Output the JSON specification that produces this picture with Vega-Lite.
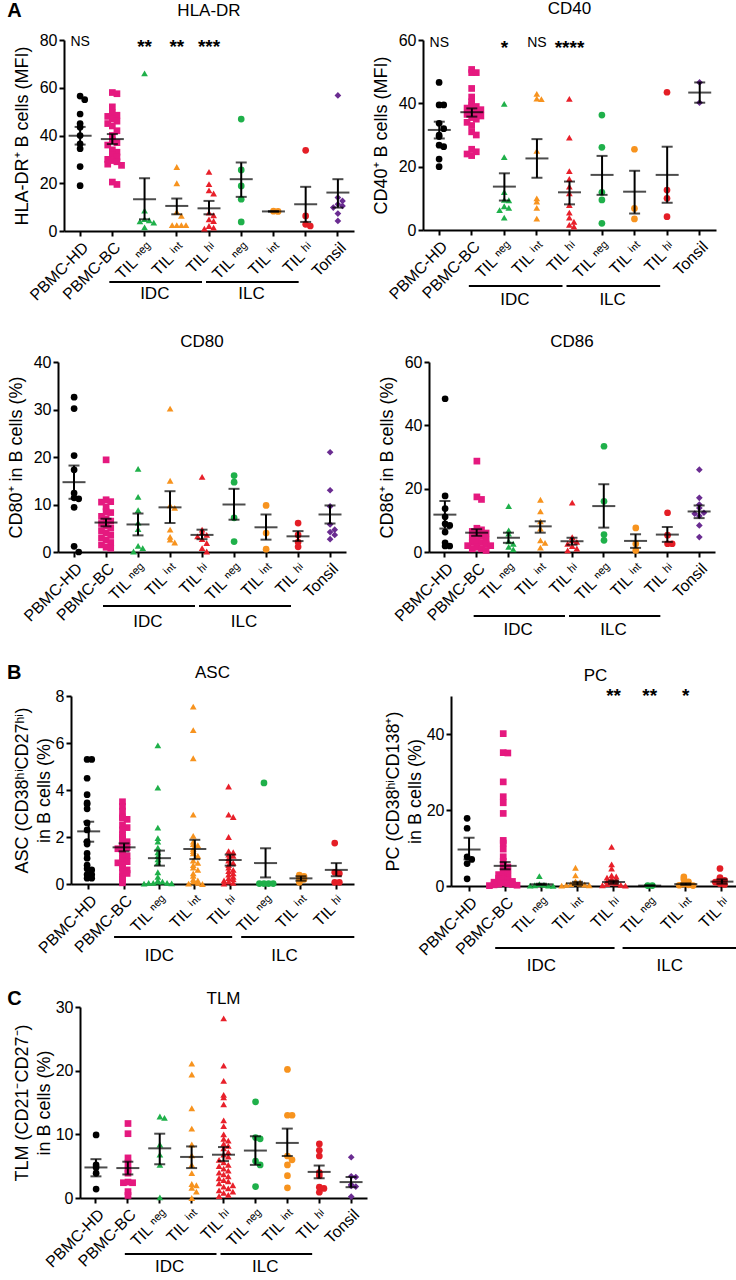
{
"$schema": "https://vega.github.io/schema/vega-lite/v6.json",
"background": "white",
"padding": {"left": 0, "top": 0, "right": 0, "bottom": 0},
"config": {
 "font": "Liberation Sans",
 "view": {"stroke": null},
 "axis": {"domainColor": "black", "domainWidth": 2, "tickColor": "black", "tickWidth": 2, "tickSize": 5, "labelColor": "black", "titleColor": "black", "labelFontSize": 16, "titleFontSize": 18, "titleFontWeight": "normal", "titleLineHeight": 22, "grid": false, "labelFont": "Liberation Sans", "titleFont": "Liberation Sans", "titlePadding": 6},
 "axisX": {"labelAngle": -45, "labelPadding": 3},
 "title": {"fontSize": 17, "fontWeight": "normal", "color": "black", "font": "Liberation Sans"},
 "concat": {"spacing": 20}
},
"datasets": {
 "hla": [
  {"c":"HD","v":56.5},{"c":"HD","v":55},{"c":"HD","v":49},{"c":"HD","v":45},{"c":"HD","v":43.5},{"c":"HD","v":40},{"c":"HD","v":36.5},{"c":"HD","v":34.5},{"c":"HD","v":27},{"c":"HD","v":19},
  {"c":"BC","v":58},{"c":"BC","v":57.5},{"c":"BC","v":52},{"c":"BC","v":49.5},{"c":"BC","v":48.5},{"c":"BC","v":48},{"c":"BC","v":47},{"c":"BC","v":46},{"c":"BC","v":45},{"c":"BC","v":44},{"c":"BC","v":42},{"c":"BC","v":40},{"c":"BC","v":38},{"c":"BC","v":37},{"c":"BC","v":36},{"c":"BC","v":34},{"c":"BC","v":33},{"c":"BC","v":32},{"c":"BC","v":31},{"c":"BC","v":30},{"c":"BC","v":29.5},{"c":"BC","v":29},{"c":"BC","v":28},{"c":"BC","v":27.5},{"c":"BC","v":20.5},{"c":"BC","v":19.5},
  {"c":"IDCneg","v":66},{"c":"IDCneg","v":8.5},{"c":"IDCneg","v":5},{"c":"IDCneg","v":4.5},{"c":"IDCneg","v":4},{"c":"IDCneg","v":3.5},{"c":"IDCneg","v":1.5},
  {"c":"IDCint","v":26.8},{"c":"IDCint","v":20},{"c":"IDCint","v":8},{"c":"IDCint","v":6.3},{"c":"IDCint","v":2.5},{"c":"IDCint","v":2.5},{"c":"IDCint","v":2.5},{"c":"IDCint","v":2.5},
  {"c":"IDChi","v":24.8},{"c":"IDChi","v":19.6},{"c":"IDChi","v":17},{"c":"IDChi","v":15.7},{"c":"IDChi","v":7.7},{"c":"IDChi","v":6.6},{"c":"IDChi","v":4.9},{"c":"IDChi","v":4.2},{"c":"IDChi","v":2.1},{"c":"IDChi","v":1.4},{"c":"IDChi","v":1},
  {"c":"ILCneg","v":46.9},{"c":"ILCneg","v":25.6},{"c":"ILCneg","v":18.9},{"c":"ILCneg","v":13.3},{"c":"ILCneg","v":3.8},
  {"c":"ILCint","v":8.3},{"c":"ILCint","v":8.2},
  {"c":"ILChi","v":33.8},{"c":"ILChi","v":6.3},{"c":"ILChi","v":2.8},{"c":"ILChi","v":2.1},
  {"c":"Tonsil","v":56.8},{"c":"Tonsil","v":14},{"c":"Tonsil","v":12.6},{"c":"Tonsil","v":11.2},{"c":"Tonsil","v":10.5},{"c":"Tonsil","v":9.8},{"c":"Tonsil","v":7.3},{"c":"Tonsil","v":4.2}
 ],
 "hla_s": [
  {"c":"HD","m":39.9,"lo":36.2,"hi":43.6},{"c":"BC","m":38.5,"lo":36.4,"hi":40.6},{"c":"IDCneg","m":13.3,"lo":4.9,"hi":22.1},{"c":"IDCint","m":10.5,"lo":7,"hi":13.6},{"c":"IDChi","m":9.5,"lo":7,"hi":12.6},{"c":"ILCneg","m":21.7,"lo":14.3,"hi":28.7},{"c":"ILCint","m":8.2,"lo":8.2,"hi":8.2},{"c":"ILChi","m":11.2,"lo":3.8,"hi":18.5},{"c":"Tonsil","m":16.1,"lo":9.8,"hi":21.7}
 ],
 "hla_sig": [{"c":"HD","t":"NS"},{"c":"IDCneg","t":"**"},{"c":"IDCint","t":"**"},{"c":"IDChi","t":"***"}],
 "cd40": [
  {"c":"HD","v":46.6},{"c":"HD","v":39.5},{"c":"HD","v":39.5},{"c":"HD","v":33.7},{"c":"HD","v":32},{"c":"HD","v":30},{"c":"HD","v":29.5},{"c":"HD","v":26.8},{"c":"HD","v":26.3},{"c":"HD","v":22.4},{"c":"HD","v":20},
  {"c":"BC","v":50.7},{"c":"BC","v":49.7},{"c":"BC","v":49.7},{"c":"BC","v":44.7},{"c":"BC","v":42},{"c":"BC","v":40.5},{"c":"BC","v":39.5},{"c":"BC","v":39},{"c":"BC","v":38.5},{"c":"BC","v":38},{"c":"BC","v":37.5},{"c":"BC","v":37},{"c":"BC","v":36.5},{"c":"BC","v":36},{"c":"BC","v":35.5},{"c":"BC","v":35},{"c":"BC","v":34},{"c":"BC","v":33},{"c":"BC","v":31},{"c":"BC","v":30},{"c":"BC","v":25.5},{"c":"BC","v":24.7},{"c":"BC","v":24},{"c":"BC","v":23.5},
  {"c":"IDCneg","v":39.8},{"c":"IDCneg","v":23},{"c":"IDCneg","v":12},{"c":"IDCneg","v":9.5},{"c":"IDCneg","v":9.4},{"c":"IDCneg","v":7.5},{"c":"IDCneg","v":7},{"c":"IDCneg","v":6.3},{"c":"IDCneg","v":3.9},
  {"c":"IDCint","v":43},{"c":"IDCint","v":41.5},{"c":"IDCint","v":41.3},{"c":"IDCint","v":25},{"c":"IDCint","v":10},{"c":"IDCint","v":9},{"c":"IDCint","v":7},{"c":"IDCint","v":3.6},
  {"c":"IDChi","v":41.4},{"c":"IDChi","v":29.2},{"c":"IDChi","v":18.6},{"c":"IDChi","v":16.1},{"c":"IDChi","v":13.7},{"c":"IDChi","v":11.6},{"c":"IDChi","v":7.9},{"c":"IDChi","v":5.5},{"c":"IDChi","v":3.9},{"c":"IDChi","v":2.6},{"c":"IDChi","v":1.6},{"c":"IDChi","v":1.1},
  {"c":"ILCneg","v":36.3},{"c":"ILCneg","v":26.1},{"c":"ILCneg","v":11.9},{"c":"ILCneg","v":9.5},{"c":"ILCneg","v":2.1},
  {"c":"ILCint","v":25.5},{"c":"ILCint","v":6.8},{"c":"ILCint","v":3.5},
  {"c":"ILChi","v":43.5},{"c":"ILChi","v":12.6},{"c":"ILChi","v":10},{"c":"ILChi","v":4.2},
  {"c":"Tonsil","v":46.6},{"c":"Tonsil","v":40.2}
 ],
 "cd40_s": [
  {"c":"HD","m":31.6,"lo":28.9,"hi":34.2},{"c":"BC","m":37.2,"lo":35.8,"hi":38.4},{"c":"IDCneg","m":13.7,"lo":9.3,"hi":17.9},{"c":"IDCint","m":22.6,"lo":16.5,"hi":28.7},{"c":"IDChi","m":11.9,"lo":8.1,"hi":15.3},{"c":"ILCneg","m":17.4,"lo":11.1,"hi":23.4},{"c":"ILCint","m":12.1,"lo":5.2,"hi":18.7},{"c":"ILChi","m":17.4,"lo":8.6,"hi":26.3},{"c":"Tonsil","m":43.4,"lo":40.2,"hi":46.6}
 ],
 "cd40_sig": [{"c":"HD","t":"NS"},{"c":"IDCneg","t":"*"},{"c":"IDCint","t":"NS"},{"c":"IDChi","t":"****"}],
 "cd80": [
  {"c":"HD","v":32.6},{"c":"HD","v":30.2},{"c":"HD","v":20.3},{"c":"HD","v":17.3},{"c":"HD","v":12.4},{"c":"HD","v":11.4},{"c":"HD","v":11.2},{"c":"HD","v":9.4},{"c":"HD","v":1.2},{"c":"HD","v":0},
  {"c":"BC","v":19.4},{"c":"BC","v":11},{"c":"BC","v":10.6},{"c":"BC","v":10.5},{"c":"BC","v":9.5},{"c":"BC","v":8.5},{"c":"BC","v":8.3},{"c":"BC","v":7.5},{"c":"BC","v":7},{"c":"BC","v":6.5},{"c":"BC","v":6},{"c":"BC","v":5.5},{"c":"BC","v":5},{"c":"BC","v":4.5},{"c":"BC","v":4},{"c":"BC","v":3.5},{"c":"BC","v":3},{"c":"BC","v":2.5},{"c":"BC","v":2},{"c":"BC","v":1.5},{"c":"BC","v":1},{"c":"BC","v":0.8},
  {"c":"IDCneg","v":17.5},{"c":"IDCneg","v":11.6},{"c":"IDCneg","v":8.8},{"c":"IDCneg","v":6.2},{"c":"IDCneg","v":4.8},{"c":"IDCneg","v":1.3},{"c":"IDCneg","v":0.8},{"c":"IDCneg","v":0.1},
  {"c":"IDCint","v":30.2},{"c":"IDCint","v":15},{"c":"IDCint","v":9.8},{"c":"IDCint","v":9.3},{"c":"IDCint","v":4.7},{"c":"IDCint","v":3.2},{"c":"IDCint","v":2.6},{"c":"IDCint","v":2},
  {"c":"IDChi","v":15.8},{"c":"IDChi","v":4.7},{"c":"IDChi","v":4.1},{"c":"IDChi","v":3.6},{"c":"IDChi","v":3.3},{"c":"IDChi","v":2.7},{"c":"IDChi","v":1.9},{"c":"IDChi","v":0.8},{"c":"IDChi","v":0.1},
  {"c":"ILCneg","v":16.1},{"c":"ILCneg","v":14.7},{"c":"ILCneg","v":7.2},{"c":"ILCneg","v":2.2},
  {"c":"ILCint","v":9.8},{"c":"ILCint","v":4},{"c":"ILCint","v":0.6},
  {"c":"ILChi","v":6.1},{"c":"ILChi","v":3.6},{"c":"ILChi","v":2.1},{"c":"ILChi","v":1.1},
  {"c":"Tonsil","v":21},{"c":"Tonsil","v":13},{"c":"Tonsil","v":9.6},{"c":"Tonsil","v":5.8},{"c":"Tonsil","v":4.7},{"c":"Tonsil","v":4.2},{"c":"Tonsil","v":3.6},{"c":"Tonsil","v":2.7}
 ],
 "cd80_s": [
  {"c":"HD","m":14.7,"lo":11.2,"hi":18.2},{"c":"BC","m":6.2,"lo":5.4,"hi":7},{"c":"IDCneg","m":5.8,"lo":3.5,"hi":8.1},{"c":"IDCint","m":9.4,"lo":6.1,"hi":12.8},{"c":"IDChi","m":3.6,"lo":2.7,"hi":4.7},{"c":"ILCneg","m":10,"lo":6.8,"hi":13.3},{"c":"ILCint","m":5.2,"lo":2.6,"hi":7.9},{"c":"ILChi","m":3.3,"lo":2.3,"hi":4.4},{"c":"Tonsil","m":7.9,"lo":6,"hi":9.8}
 ],
 "cd86": [
  {"c":"HD","v":48.4},{"c":"HD","v":17.7},{"c":"HD","v":13.7},{"c":"HD","v":11.1},{"c":"HD","v":8.9},{"c":"HD","v":8.4},{"c":"HD","v":6.3},{"c":"HD","v":2.9},{"c":"HD","v":1.9},{"c":"HD","v":1.9},
  {"c":"BC","v":28.7},{"c":"BC","v":17.4},{"c":"BC","v":16.6},{"c":"BC","v":7.5},{"c":"BC","v":7},{"c":"BC","v":6.5},{"c":"BC","v":6},{"c":"BC","v":5.5},{"c":"BC","v":5},{"c":"BC","v":4.5},{"c":"BC","v":4},{"c":"BC","v":3.5},{"c":"BC","v":3},{"c":"BC","v":3},{"c":"BC","v":2.5},{"c":"BC","v":2},{"c":"BC","v":2},{"c":"BC","v":1.5},{"c":"BC","v":1},{"c":"BC","v":1},{"c":"BC","v":0.5},
  {"c":"IDCneg","v":14.5},{"c":"IDCneg","v":6.8},{"c":"IDCneg","v":5.8},{"c":"IDCneg","v":3.4},{"c":"IDCneg","v":2.6},{"c":"IDCneg","v":1.6},{"c":"IDCneg","v":0.8},
  {"c":"IDCint","v":16.5},{"c":"IDCint","v":12.8},{"c":"IDCint","v":9.7},{"c":"IDCint","v":7.4},{"c":"IDCint","v":3.7},{"c":"IDCint","v":2.9},{"c":"IDCint","v":1.4},
  {"c":"IDChi","v":15.6},{"c":"IDChi","v":4.7},{"c":"IDChi","v":3.7},{"c":"IDChi","v":3.2},{"c":"IDChi","v":2.6},{"c":"IDChi","v":1.9},{"c":"IDChi","v":1.1},{"c":"IDChi","v":0.5},
  {"c":"ILCneg","v":33.4},{"c":"ILCneg","v":16},{"c":"ILCneg","v":5.5},{"c":"ILCneg","v":3.7},
  {"c":"ILCint","v":7.6},{"c":"ILCint","v":2.6},{"c":"ILCint","v":0.5},
  {"c":"ILChi","v":12.4},{"c":"ILChi","v":5.3},{"c":"ILChi","v":2.6},{"c":"ILChi","v":2.6},
  {"c":"Tonsil","v":26},{"c":"Tonsil","v":17.1},{"c":"Tonsil","v":15},{"c":"Tonsil","v":13.9},{"c":"Tonsil","v":12.4},{"c":"Tonsil","v":12.1},{"c":"Tonsil","v":11.4},{"c":"Tonsil","v":8.4},{"c":"Tonsil","v":4.7}
 ],
 "cd86_s": [
  {"c":"HD","m":11.8,"lo":7.4,"hi":16.1},{"c":"BC","m":6.1,"lo":5.1,"hi":7.2},{"c":"IDCneg","m":4.5,"lo":2.9,"hi":6.1},{"c":"IDCint","m":8.1,"lo":6.1,"hi":9.7},{"c":"IDChi","m":3.4,"lo":2.3,"hi":4.5},{"c":"ILCneg","m":14.5,"lo":7.7,"hi":21.4},{"c":"ILCint","m":3.5,"lo":1.3,"hi":5.6},{"c":"ILChi","m":5.5,"lo":3.2,"hi":7.9},{"c":"Tonsil","m":12.8,"lo":10.7,"hi":14.7}
 ],
 "asc": [
  {"c":"HD","v":5.3},{"c":"HD","v":5.3},{"c":"HD","v":4.5},{"c":"HD","v":3.8},{"c":"HD","v":3.45},{"c":"HD","v":3.4},{"c":"HD","v":3.2},{"c":"HD","v":2.6},{"c":"HD","v":2.3},{"c":"HD","v":1.8},{"c":"HD","v":1.7},{"c":"HD","v":1.3},{"c":"HD","v":1.1},{"c":"HD","v":0.8},{"c":"HD","v":0.65},{"c":"HD","v":0.6},{"c":"HD","v":0.4},{"c":"HD","v":0.4},{"c":"HD","v":0.25},{"c":"HD","v":0.25},
  {"c":"BC","v":3.5},{"c":"BC","v":3.3},{"c":"BC","v":3.1},{"c":"BC","v":2.85},{"c":"BC","v":2.8},{"c":"BC","v":2.75},{"c":"BC","v":2.5},{"c":"BC","v":2.4},{"c":"BC","v":2.3},{"c":"BC","v":2.1},{"c":"BC","v":2},{"c":"BC","v":1.9},{"c":"BC","v":1.8},{"c":"BC","v":1.7},{"c":"BC","v":1.6},{"c":"BC","v":1.55},{"c":"BC","v":1.5},{"c":"BC","v":1.4},{"c":"BC","v":1.3},{"c":"BC","v":1.2},{"c":"BC","v":1.1},{"c":"BC","v":1},{"c":"BC","v":0.95},{"c":"BC","v":0.9},{"c":"BC","v":0.8},{"c":"BC","v":0.7},{"c":"BC","v":0.6},{"c":"BC","v":0.5},{"c":"BC","v":0.45},{"c":"BC","v":0.3},{"c":"BC","v":0.2},{"c":"BC","v":0.05},
  {"c":"IDCneg","v":5.9},{"c":"IDCneg","v":4.1},{"c":"IDCneg","v":2.4},{"c":"IDCneg","v":1.95},{"c":"IDCneg","v":1.8},{"c":"IDCneg","v":1.55},{"c":"IDCneg","v":1.35},{"c":"IDCneg","v":1.2},{"c":"IDCneg","v":1.05},{"c":"IDCneg","v":0.9},{"c":"IDCneg","v":0.5},{"c":"IDCneg","v":0.3},{"c":"IDCneg","v":0.15},{"c":"IDCneg","v":0.1},{"c":"IDCneg","v":0.1},{"c":"IDCneg","v":0.05},{"c":"IDCneg","v":0.05},{"c":"IDCneg","v":0.05},{"c":"IDCneg","v":0.03},{"c":"IDCneg","v":0.02},
  {"c":"IDCint","v":7.55},{"c":"IDCint","v":6.55},{"c":"IDCint","v":5.35},{"c":"IDCint","v":2.95},{"c":"IDCint","v":2.05},{"c":"IDCint","v":1.8},{"c":"IDCint","v":1.7},{"c":"IDCint","v":1.65},{"c":"IDCint","v":1.5},{"c":"IDCint","v":1.4},{"c":"IDCint","v":1.3},{"c":"IDCint","v":1.2},{"c":"IDCint","v":1},{"c":"IDCint","v":0.9},{"c":"IDCint","v":0.8},{"c":"IDCint","v":0.7},{"c":"IDCint","v":0.6},{"c":"IDCint","v":0.45},{"c":"IDCint","v":0.35},{"c":"IDCint","v":0.2},{"c":"IDCint","v":0.15},{"c":"IDCint","v":0.1},{"c":"IDCint","v":0.05},{"c":"IDCint","v":0.02},{"c":"IDCint","v":0},
  {"c":"IDChi","v":4.15},{"c":"IDChi","v":2.95},{"c":"IDChi","v":2.85},{"c":"IDChi","v":2},{"c":"IDChi","v":1.4},{"c":"IDChi","v":1.35},{"c":"IDChi","v":1.25},{"c":"IDChi","v":1.2},{"c":"IDChi","v":1.1},{"c":"IDChi","v":1},{"c":"IDChi","v":0.9},{"c":"IDChi","v":0.8},{"c":"IDChi","v":0.7},{"c":"IDChi","v":0.6},{"c":"IDChi","v":0.55},{"c":"IDChi","v":0.45},{"c":"IDChi","v":0.4},{"c":"IDChi","v":0.3},{"c":"IDChi","v":0.25},{"c":"IDChi","v":0.2},{"c":"IDChi","v":0.15},{"c":"IDChi","v":0.1},{"c":"IDChi","v":0.05},{"c":"IDChi","v":0.02},
  {"c":"ILCneg","v":4.3},{"c":"ILCneg","v":0.02},{"c":"ILCneg","v":0.02},{"c":"ILCneg","v":0.02},{"c":"ILCneg","v":0.02},
  {"c":"ILCint","v":0.38},{"c":"ILCint","v":0.33},{"c":"ILCint","v":0.25},{"c":"ILCint","v":0.2},{"c":"ILCint","v":0.07},
  {"c":"ILChi","v":1.74},{"c":"ILChi","v":0.5},{"c":"ILChi","v":0.45},{"c":"ILChi","v":0.07},{"c":"ILChi","v":0.07}
 ],
 "asc_s": [
  {"c":"HD","m":2.24,"lo":1.8,"hi":2.65},{"c":"BC","m":1.56,"lo":1.39,"hi":1.73},{"c":"IDCneg","m":1.1,"lo":0.78,"hi":1.42},{"c":"IDCint","m":1.49,"lo":1.06,"hi":1.88},{"c":"IDChi","m":1.02,"lo":0.78,"hi":1.25},{"c":"ILCneg","m":0.89,"lo":0.28,"hi":1.52},{"c":"ILCint","m":0.24,"lo":0.14,"hi":0.33},{"c":"ILChi","m":0.6,"lo":0.33,"hi":0.89}
 ],
 "pc": [
  {"c":"HD","v":17.8},{"c":"HD","v":15.2},{"c":"HD","v":7.7},{"c":"HD","v":7},{"c":"HD","v":5.9},{"c":"HD","v":1.9},
  {"c":"BC","v":40.1},{"c":"BC","v":35.1},{"c":"BC","v":35},{"c":"BC","v":27.4},{"c":"BC","v":23.5},{"c":"BC","v":21.9},{"c":"BC","v":19.1},{"c":"BC","v":12},{"c":"BC","v":11.3},{"c":"BC","v":9.7},{"c":"BC","v":7.7},{"c":"BC","v":6.5},{"c":"BC","v":5.5},{"c":"BC","v":5},{"c":"BC","v":4.5},{"c":"BC","v":4},{"c":"BC","v":3.5},{"c":"BC","v":3.2},{"c":"BC","v":3},{"c":"BC","v":2.5},{"c":"BC","v":2.2},{"c":"BC","v":2},{"c":"BC","v":1.8},{"c":"BC","v":1.5},{"c":"BC","v":1.3},{"c":"BC","v":1.2},{"c":"BC","v":1},{"c":"BC","v":0.8},{"c":"BC","v":0.6},{"c":"BC","v":0.5},{"c":"BC","v":0.4},{"c":"BC","v":0.3},{"c":"BC","v":0.2},{"c":"BC","v":0.1},
  {"c":"IDCneg","v":2.6},{"c":"IDCneg","v":0.5},{"c":"IDCneg","v":0.3},{"c":"IDCneg","v":0.2},{"c":"IDCneg","v":0.1},{"c":"IDCneg","v":0.1},{"c":"IDCneg","v":0.05},
  {"c":"IDCint","v":4.8},{"c":"IDCint","v":2.8},{"c":"IDCint","v":1.2},{"c":"IDCint","v":1},{"c":"IDCint","v":0.8},{"c":"IDCint","v":0.6},{"c":"IDCint","v":0.5},{"c":"IDCint","v":0.4},{"c":"IDCint","v":0.3},{"c":"IDCint","v":0.2},{"c":"IDCint","v":0.1},
  {"c":"IDChi","v":10.3},{"c":"IDChi","v":5.7},{"c":"IDChi","v":4.6},{"c":"IDChi","v":2.8},{"c":"IDChi","v":2.5},{"c":"IDChi","v":2.2},{"c":"IDChi","v":1.9},{"c":"IDChi","v":1.6},{"c":"IDChi","v":1.2},{"c":"IDChi","v":0.9},{"c":"IDChi","v":0.7},{"c":"IDChi","v":0.5},{"c":"IDChi","v":0.3},{"c":"IDChi","v":0.2},{"c":"IDChi","v":0.1},
  {"c":"ILCneg","v":0.1},{"c":"ILCneg","v":0.1},
  {"c":"ILCint","v":2.4},{"c":"ILCint","v":1.8},{"c":"ILCint","v":1.1},{"c":"ILCint","v":0.5},{"c":"ILCint","v":0.3},{"c":"ILCint","v":0.2},{"c":"ILCint","v":0.1},
  {"c":"ILChi","v":4.6},{"c":"ILChi","v":2.2},{"c":"ILChi","v":1.8},{"c":"ILChi","v":1.5},{"c":"ILChi","v":1},{"c":"ILChi","v":0.6},{"c":"ILChi","v":0.4}
 ],
 "pc_s": [
  {"c":"HD","m":9.6,"lo":7,"hi":12.7},{"c":"BC","m":5.3,"lo":4.4,"hi":6.3},{"c":"IDCneg","m":0.45,"lo":0.3,"hi":0.6},{"c":"IDCint","m":0.7,"lo":0.3,"hi":1.1},{"c":"IDChi","m":1.05,"lo":0.6,"hi":1.4},{"c":"ILCneg","m":0.1,"lo":0.1,"hi":0.1},{"c":"ILCint","m":0.5,"lo":0.3,"hi":0.7},{"c":"ILChi","m":1.15,"lo":0.6,"hi":1.75}
 ],
 "pc_sig": [{"c":"IDChi","t":"**"},{"c":"ILCneg","t":"**"},{"c":"ILCint","t":"*"}],
 "tlm": [
  {"c":"HD","v":9.9},{"c":"HD","v":5.2},{"c":"HD","v":4.8},{"c":"HD","v":3.9},{"c":"HD","v":1.4},
  {"c":"BC","v":11.7},{"c":"BC","v":10.1},{"c":"BC","v":6.3},{"c":"BC","v":5.5},{"c":"BC","v":4.5},{"c":"BC","v":3.9},{"c":"BC","v":2.5},{"c":"BC","v":2.4},{"c":"BC","v":2.4},{"c":"BC","v":1},{"c":"BC","v":0.4},
  {"c":"IDCneg","v":12.8},{"c":"IDCneg","v":12.6},{"c":"IDCneg","v":8.4},{"c":"IDCneg","v":6.8},{"c":"IDCneg","v":5.2},{"c":"IDCneg","v":0.1},
  {"c":"IDCint","v":21.1},{"c":"IDCint","v":19.4},{"c":"IDCint","v":14.1},{"c":"IDCint","v":10.9},{"c":"IDCint","v":8.4},{"c":"IDCint","v":6.7},{"c":"IDCint","v":5.2},{"c":"IDCint","v":3.9},{"c":"IDCint","v":2.2},{"c":"IDCint","v":2},{"c":"IDCint","v":1.6},{"c":"IDCint","v":1},{"c":"IDCint","v":0},
  {"c":"IDChi","v":28.2},{"c":"IDChi","v":20.8},{"c":"IDChi","v":18.4},{"c":"IDChi","v":16.2},{"c":"IDChi","v":15.8},{"c":"IDChi","v":14.7},{"c":"IDChi","v":12.2},{"c":"IDChi","v":11.3},{"c":"IDChi","v":10},{"c":"IDChi","v":9.3},{"c":"IDChi","v":9},{"c":"IDChi","v":8.5},{"c":"IDChi","v":8.2},{"c":"IDChi","v":7.8},{"c":"IDChi","v":7.2},{"c":"IDChi","v":6.8},{"c":"IDChi","v":6.5},{"c":"IDChi","v":6},{"c":"IDChi","v":5.6},{"c":"IDChi","v":5.2},{"c":"IDChi","v":5},{"c":"IDChi","v":4.6},{"c":"IDChi","v":4.3},{"c":"IDChi","v":4},{"c":"IDChi","v":3.7},{"c":"IDChi","v":3.4},{"c":"IDChi","v":3.1},{"c":"IDChi","v":2.8},{"c":"IDChi","v":2.6},{"c":"IDChi","v":2.3},{"c":"IDChi","v":2},{"c":"IDChi","v":1.8},{"c":"IDChi","v":1.5},{"c":"IDChi","v":1.2},{"c":"IDChi","v":1},{"c":"IDChi","v":0.8},{"c":"IDChi","v":0.5},{"c":"IDChi","v":0.3},
  {"c":"ILCneg","v":15.1},{"c":"ILCneg","v":9.5},{"c":"ILCneg","v":9.3},{"c":"ILCneg","v":5.8},{"c":"ILCneg","v":5.2},{"c":"ILCneg","v":1.8},
  {"c":"ILCint","v":20.2},{"c":"ILCint","v":13},{"c":"ILCint","v":13},{"c":"ILCint","v":6.6},{"c":"ILCint","v":6},{"c":"ILCint","v":5.2},{"c":"ILCint","v":3.5},{"c":"ILCint","v":1.6},
  {"c":"ILChi","v":8.5},{"c":"ILChi","v":7.5},{"c":"ILChi","v":6.6},{"c":"ILChi","v":4},{"c":"ILChi","v":3.5},{"c":"ILChi","v":1.7},{"c":"ILChi","v":1.5},{"c":"ILChi","v":0.9},
  {"c":"Tonsil","v":6.4},{"c":"Tonsil","v":3.4},{"c":"Tonsil","v":3.3},{"c":"Tonsil","v":2.1},{"c":"Tonsil","v":1.9},{"c":"Tonsil","v":1.8},{"c":"Tonsil","v":0.2}
 ],
 "tlm_s": [
  {"c":"HD","m":4.8,"lo":3.4,"hi":6.1},{"c":"BC","m":4.7,"lo":3.7,"hi":5.7},{"c":"IDCneg","m":7.8,"lo":5.3,"hi":10.1},{"c":"IDCint","m":6.45,"lo":4.7,"hi":8.1},{"c":"IDChi","m":6.8,"lo":5.8,"hi":8},{"c":"ILCneg","m":7.45,"lo":5.2,"hi":9.7},{"c":"ILCint","m":8.65,"lo":6.6,"hi":10.9},{"c":"ILChi","m":4.1,"lo":3.1,"hi":5.1},{"c":"Tonsil","m":2.5,"lo":1.7,"hi":3.3}
 ],
 "brk": [{"g":"IDC","from":"BC","to":"IDChi","mid":"IDCint"},{"g":"ILC","from":"IDChi","to":"ILChi","mid":"ILCint"}],
 "brk8": [{"g":"IDC","from":"BC","to":"IDChi","mid":"IDCneg"},{"g":"ILC","from":"IDChi","to":"ILChi","mid":"ILCneg"}],
 "blank": [{"b": 0}]
},
"spacing": 25,
"vconcat": [
 {
 "spacing": 25,
 "vconcat": [
 {"spacing": 0, "hconcat": [
 {"width": 1, "height": 1, "data": {"name": "blank"}, "mark": {"type": "point", "opacity": 0}, "encoding": {}},
 {
  "title": {"text": "A", "anchor": "start", "fontSize": 20, "fontWeight": "bold", "offset": -21, "dx": -6},
  "spacing": 18,
  "hconcat": [
   {
    "width": 290, "height": 191,
    "title": {"text": "HLA-DR", "offset": 12},
    "layer": [
     {"data": {"name": "hla"},
      "transform": [{"bin": {"step": 3}, "field": "v", "as": "vb"}, {"window": [{"op": "row_number", "as": "k"}], "groupby": ["c", "vb"]}],
      "mark": {"type": "point", "filled": true, "size": 45, "opacity": 1},
      "encoding": {
       "x": {"field": "c", "type": "nominal", "scale": {"domain": ["HD","BC","IDCneg","IDCint","IDChi","ILCneg","ILCint","ILChi","Tonsil"], "paddingInner": 0, "paddingOuter": 0}, "axis": {"title": null, "labelExpr": "datum.value == 'HD' ? 'PBMC-HD' : datum.value == 'BC' ? 'PBMC-BC' : datum.value == 'Tonsil' ? 'Tonsil' : indexof(datum.value, 'neg') > 0 ? 'TIL ⁿᵉᵍ' : indexof(datum.value, 'int') > 0 ? 'TIL ⁱⁿᵗ' : 'TIL ʰⁱ'"}},
       "xOffset": {"field": "k", "type": "ordinal", "scale": {"domain": [7,5,3,1,2,4,6]}},
       "y": {"field": "v", "type": "quantitative", "scale": {"domain": [0, 80], "nice": false}, "axis": {"values": [0,20,40,60,80], "title": "HLA-DR⁺ B cells (MFI)", "titlePadding": 8}},
       "color": {"field": "c", "type": "nominal", "scale": {"domain": ["HD","BC","IDCneg","IDCint","IDChi","ILCneg","ILCint","ILChi","Tonsil"], "range": ["#000000","#E5197F","#1FB04A","#F7931E","#E8202A","#1FB04A","#F7931E","#E41E26","#6A2C91"]}, "legend": null},
       "shape": {"field": "c", "type": "nominal", "scale": {"domain": ["HD","BC","IDCneg","IDCint","IDChi","ILCneg","ILCint","ILChi","Tonsil"], "range": ["circle","square","triangle-up","triangle-up","triangle-up","circle","circle","circle","diamond"]}, "legend": null}
      }},
     {"data": {"name": "hla_s"}, "mark": {"type": "rule", "strokeWidth": 2, "color": "black"}, "encoding": {"x": {"field": "c", "type": "nominal", "title": null}, "y": {"field": "lo", "type": "quantitative"}, "y2": {"field": "hi"}}},
     {"data": {"name": "hla_s"}, "mark": {"type": "tick", "size": 23, "thickness": 2, "color": "black"}, "encoding": {"x": {"field": "c", "type": "nominal", "title": null}, "y": {"field": "m", "type": "quantitative"}}},
     {"data": {"name": "hla_s"}, "mark": {"type": "tick", "size": 11, "thickness": 2, "color": "black"}, "encoding": {"x": {"field": "c", "type": "nominal", "title": null}, "y": {"field": "lo", "type": "quantitative"}}},
     {"data": {"name": "hla_s"}, "mark": {"type": "tick", "size": 11, "thickness": 2, "color": "black"}, "encoding": {"x": {"field": "c", "type": "nominal", "title": null}, "y": {"field": "hi", "type": "quantitative"}}},
     {"data": {"name": "hla_sig"}, "transform": [{"filter": "datum.t == 'NS'"}], "mark": {"type": "text", "fontSize": 14, "color": "black"}, "encoding": {"x": {"field": "c", "type": "nominal", "title": null}, "y": {"datum": 79}, "text": {"field": "t"}}},
     {"data": {"name": "hla_sig"}, "transform": [{"filter": "datum.t != 'NS'"}], "mark": {"type": "text", "fontSize": 19, "fontWeight": "bold", "color": "black", "dy": 5}, "encoding": {"x": {"field": "c", "type": "nominal", "title": null}, "y": {"datum": 79}, "text": {"field": "t"}}},
     {"data": {"name": "brk"}, "mark": {"type": "rule", "strokeWidth": 1.8, "color": "black", "yOffset": 51, "xOffset": -3, "x2Offset": -7}, "encoding": {"x": {"field": "from", "type": "nominal", "title": null}, "x2": {"field": "to"}, "y": {"datum": 0}}},
     {"data": {"name": "brk"}, "mark": {"type": "text", "fontSize": 17, "color": "black", "yOffset": 63, "dx": -22}, "encoding": {"x": {"field": "mid", "type": "nominal", "title": null}, "y": {"datum": 0}, "text": {"field": "g"}}}
    ]
   },
   {
    "width": 293, "height": 190,
    "title": {"text": "CD40", "offset": 14},
    "layer": [
     {"data": {"name": "cd40"},
      "transform": [{"bin": {"step": 2}, "field": "v", "as": "vb"}, {"window": [{"op": "row_number", "as": "k"}], "groupby": ["c", "vb"]}],
      "mark": {"type": "point", "filled": true, "size": 45, "opacity": 1},
      "encoding": {
       "x": {"field": "c", "type": "nominal", "scale": {"domain": ["HD","BC","IDCneg","IDCint","IDChi","ILCneg","ILCint","ILChi","Tonsil"], "paddingInner": 0, "paddingOuter": 0}, "axis": {"title": null, "labelExpr": "datum.value == 'HD' ? 'PBMC-HD' : datum.value == 'BC' ? 'PBMC-BC' : datum.value == 'Tonsil' ? 'Tonsil' : indexof(datum.value, 'neg') > 0 ? 'TIL ⁿᵉᵍ' : indexof(datum.value, 'int') > 0 ? 'TIL ⁱⁿᵗ' : 'TIL ʰⁱ'"}},
       "xOffset": {"field": "k", "type": "ordinal", "scale": {"domain": [7,5,3,1,2,4,6]}},
       "y": {"field": "v", "type": "quantitative", "scale": {"domain": [0, 60], "nice": false}, "axis": {"values": [0,20,40,60], "title": "CD40⁺ B cells (MFI)", "titlePadding": 8}},
       "color": {"field": "c", "type": "nominal", "scale": {"domain": ["HD","BC","IDCneg","IDCint","IDChi","ILCneg","ILCint","ILChi","Tonsil"], "range": ["#000000","#E5197F","#1FB04A","#F7931E","#F0566A","#1FB04A","#F7931E","#E41E26","#6A2C91"]}, "legend": null},
       "shape": {"field": "c", "type": "nominal", "scale": {"domain": ["HD","BC","IDCneg","IDCint","IDChi","ILCneg","ILCint","ILChi","Tonsil"], "range": ["circle","square","triangle-up","triangle-up","triangle-up","circle","circle","circle","diamond"]}, "legend": null}
      }},
     {"data": {"name": "cd40_s"}, "mark": {"type": "rule", "strokeWidth": 2, "color": "black"}, "encoding": {"x": {"field": "c", "type": "nominal", "title": null}, "y": {"field": "lo", "type": "quantitative"}, "y2": {"field": "hi"}}},
     {"data": {"name": "cd40_s"}, "mark": {"type": "tick", "size": 23, "thickness": 2, "color": "black"}, "encoding": {"x": {"field": "c", "type": "nominal", "title": null}, "y": {"field": "m", "type": "quantitative"}}},
     {"data": {"name": "cd40_s"}, "mark": {"type": "tick", "size": 11, "thickness": 2, "color": "black"}, "encoding": {"x": {"field": "c", "type": "nominal", "title": null}, "y": {"field": "lo", "type": "quantitative"}}},
     {"data": {"name": "cd40_s"}, "mark": {"type": "tick", "size": 11, "thickness": 2, "color": "black"}, "encoding": {"x": {"field": "c", "type": "nominal", "title": null}, "y": {"field": "hi", "type": "quantitative"}}},
     {"data": {"name": "cd40_sig"}, "transform": [{"filter": "datum.t == 'NS'"}], "mark": {"type": "text", "fontSize": 14, "color": "black"}, "encoding": {"x": {"field": "c", "type": "nominal", "title": null}, "y": {"datum": 59}, "text": {"field": "t"}}},
     {"data": {"name": "cd40_sig"}, "transform": [{"filter": "datum.t != 'NS'"}], "mark": {"type": "text", "fontSize": 19, "fontWeight": "bold", "color": "black", "dy": 5}, "encoding": {"x": {"field": "c", "type": "nominal", "title": null}, "y": {"datum": 59}, "text": {"field": "t"}}},
     {"data": {"name": "brk"}, "mark": {"type": "rule", "strokeWidth": 1.8, "color": "black", "yOffset": 56, "xOffset": -3, "x2Offset": -7}, "encoding": {"x": {"field": "from", "type": "nominal", "title": null}, "x2": {"field": "to"}, "y": {"datum": 0}}},
     {"data": {"name": "brk"}, "mark": {"type": "text", "fontSize": 17, "color": "black", "yOffset": 70, "dx": -22}, "encoding": {"x": {"field": "mid", "type": "nominal", "title": null}, "y": {"datum": 0}, "text": {"field": "g"}}}
    ]
   }
  ]
 }
 ]},
 {"spacing": 0, "hconcat": [
 {"width": 1, "height": 1, "data": {"name": "blank"}, "mark": {"type": "point", "opacity": 0}, "encoding": {}},
 {
  "spacing": 32,
  "hconcat": [
   {
    "width": 288, "height": 190,
    "title": {"text": "CD80", "offset": 3},
    "layer": [
     {"data": {"name": "cd80"},
      "transform": [{"bin": {"step": 1.5}, "field": "v", "as": "vb"}, {"window": [{"op": "row_number", "as": "k"}], "groupby": ["c", "vb"]}],
      "mark": {"type": "point", "filled": true, "size": 45, "opacity": 1},
      "encoding": {
       "x": {"field": "c", "type": "nominal", "scale": {"domain": ["HD","BC","IDCneg","IDCint","IDChi","ILCneg","ILCint","ILChi","Tonsil"], "paddingInner": 0, "paddingOuter": 0}, "axis": {"title": null, "labelExpr": "datum.value == 'HD' ? 'PBMC-HD' : datum.value == 'BC' ? 'PBMC-BC' : datum.value == 'Tonsil' ? 'Tonsil' : indexof(datum.value, 'neg') > 0 ? 'TIL ⁿᵉᵍ' : indexof(datum.value, 'int') > 0 ? 'TIL ⁱⁿᵗ' : 'TIL ʰⁱ'"}},
       "xOffset": {"field": "k", "type": "ordinal", "scale": {"domain": [7,5,3,1,2,4,6]}},
       "y": {"field": "v", "type": "quantitative", "scale": {"domain": [0, 40], "nice": false}, "axis": {"values": [0,10,20,30,40], "title": "CD80⁺ in B cells (%)", "titlePadding": 8}},
       "color": {"field": "c", "type": "nominal", "scale": {"domain": ["HD","BC","IDCneg","IDCint","IDChi","ILCneg","ILCint","ILChi","Tonsil"], "range": ["#000000","#E5197F","#1FB04A","#F7931E","#E8202A","#1FB04A","#F7931E","#E41E26","#6A2C91"]}, "legend": null},
       "shape": {"field": "c", "type": "nominal", "scale": {"domain": ["HD","BC","IDCneg","IDCint","IDChi","ILCneg","ILCint","ILChi","Tonsil"], "range": ["circle","square","triangle-up","triangle-up","triangle-up","circle","circle","circle","diamond"]}, "legend": null}
      }},
     {"data": {"name": "cd80_s"}, "mark": {"type": "rule", "strokeWidth": 2, "color": "black"}, "encoding": {"x": {"field": "c", "type": "nominal", "title": null}, "y": {"field": "lo", "type": "quantitative"}, "y2": {"field": "hi"}}},
     {"data": {"name": "cd80_s"}, "mark": {"type": "tick", "size": 23, "thickness": 2, "color": "black"}, "encoding": {"x": {"field": "c", "type": "nominal", "title": null}, "y": {"field": "m", "type": "quantitative"}}},
     {"data": {"name": "cd80_s"}, "mark": {"type": "tick", "size": 11, "thickness": 2, "color": "black"}, "encoding": {"x": {"field": "c", "type": "nominal", "title": null}, "y": {"field": "lo", "type": "quantitative"}}},
     {"data": {"name": "cd80_s"}, "mark": {"type": "tick", "size": 11, "thickness": 2, "color": "black"}, "encoding": {"x": {"field": "c", "type": "nominal", "title": null}, "y": {"field": "hi", "type": "quantitative"}}},
     {"data": {"name": "brk"}, "mark": {"type": "rule", "strokeWidth": 1.8, "color": "black", "yOffset": 54, "xOffset": -3, "x2Offset": -7}, "encoding": {"x": {"field": "from", "type": "nominal", "title": null}, "x2": {"field": "to"}, "y": {"datum": 0}}},
     {"data": {"name": "brk"}, "mark": {"type": "text", "fontSize": 17, "color": "black", "yOffset": 70, "dx": -22}, "encoding": {"x": {"field": "mid", "type": "nominal", "title": null}, "y": {"datum": 0}, "text": {"field": "g"}}}
    ]
   },
   {
    "width": 286, "height": 190,
    "title": {"text": "CD86", "offset": 3},
    "layer": [
     {"data": {"name": "cd86"},
      "transform": [{"bin": {"step": 2}, "field": "v", "as": "vb"}, {"window": [{"op": "row_number", "as": "k"}], "groupby": ["c", "vb"]}],
      "mark": {"type": "point", "filled": true, "size": 45, "opacity": 1},
      "encoding": {
       "x": {"field": "c", "type": "nominal", "scale": {"domain": ["HD","BC","IDCneg","IDCint","IDChi","ILCneg","ILCint","ILChi","Tonsil"], "paddingInner": 0, "paddingOuter": 0}, "axis": {"title": null, "labelExpr": "datum.value == 'HD' ? 'PBMC-HD' : datum.value == 'BC' ? 'PBMC-BC' : datum.value == 'Tonsil' ? 'Tonsil' : indexof(datum.value, 'neg') > 0 ? 'TIL ⁿᵉᵍ' : indexof(datum.value, 'int') > 0 ? 'TIL ⁱⁿᵗ' : 'TIL ʰⁱ'"}},
       "xOffset": {"field": "k", "type": "ordinal", "scale": {"domain": [7,5,3,1,2,4,6]}},
       "y": {"field": "v", "type": "quantitative", "scale": {"domain": [0, 60], "nice": false}, "axis": {"values": [0,20,40,60], "title": "CD86⁺ in B cells (%)", "titlePadding": 8}},
       "color": {"field": "c", "type": "nominal", "scale": {"domain": ["HD","BC","IDCneg","IDCint","IDChi","ILCneg","ILCint","ILChi","Tonsil"], "range": ["#000000","#E5197F","#1FB04A","#F7931E","#E8202A","#1FB04A","#F7931E","#E41E26","#6A2C91"]}, "legend": null},
       "shape": {"field": "c", "type": "nominal", "scale": {"domain": ["HD","BC","IDCneg","IDCint","IDChi","ILCneg","ILCint","ILChi","Tonsil"], "range": ["circle","square","triangle-up","triangle-up","triangle-up","circle","circle","circle","diamond"]}, "legend": null}
      }},
     {"data": {"name": "cd86_s"}, "mark": {"type": "rule", "strokeWidth": 2, "color": "black"}, "encoding": {"x": {"field": "c", "type": "nominal", "title": null}, "y": {"field": "lo", "type": "quantitative"}, "y2": {"field": "hi"}}},
     {"data": {"name": "cd86_s"}, "mark": {"type": "tick", "size": 23, "thickness": 2, "color": "black"}, "encoding": {"x": {"field": "c", "type": "nominal", "title": null}, "y": {"field": "m", "type": "quantitative"}}},
     {"data": {"name": "cd86_s"}, "mark": {"type": "tick", "size": 11, "thickness": 2, "color": "black"}, "encoding": {"x": {"field": "c", "type": "nominal", "title": null}, "y": {"field": "lo", "type": "quantitative"}}},
     {"data": {"name": "cd86_s"}, "mark": {"type": "tick", "size": 11, "thickness": 2, "color": "black"}, "encoding": {"x": {"field": "c", "type": "nominal", "title": null}, "y": {"field": "hi", "type": "quantitative"}}},
     {"data": {"name": "brk"}, "mark": {"type": "rule", "strokeWidth": 1.8, "color": "black", "yOffset": 64, "xOffset": -3, "x2Offset": -7}, "encoding": {"x": {"field": "from", "type": "nominal", "title": null}, "x2": {"field": "to"}, "y": {"datum": 0}}},
     {"data": {"name": "brk"}, "mark": {"type": "text", "fontSize": 17, "color": "black", "yOffset": 78, "dx": -22}, "encoding": {"x": {"field": "mid", "type": "nominal", "title": null}, "y": {"datum": 0}, "text": {"field": "g"}}}
    ]
   }
  ]
 }
 ]}
 ]
 },
 {
 "spacing": 15,
 "vconcat": [
 {"spacing": 0, "hconcat": [
 {"width": 1, "height": 1, "data": {"name": "blank"}, "mark": {"type": "point", "opacity": 0}, "encoding": {}},
 {
  "title": {"text": "B", "anchor": "start", "fontSize": 20, "fontWeight": "bold", "offset": -19, "dx": -6},
  "spacing": 28,
  "hconcat": [
   {
    "width": 283, "height": 188,
    "title": {"text": "ASC", "offset": 6},
    "layer": [
     {"data": {"name": "asc"},
      "transform": [{"bin": {"step": 0.15}, "field": "v", "as": "vb"}, {"window": [{"op": "row_number", "as": "k"}], "groupby": ["c", "vb"]}],
      "mark": {"type": "point", "filled": true, "size": 45, "opacity": 1},
      "encoding": {
       "x": {"field": "c", "type": "nominal", "scale": {"domain": ["HD","BC","IDCneg","IDCint","IDChi","ILCneg","ILCint","ILChi"], "paddingInner": 0, "paddingOuter": 0}, "axis": {"title": null, "labelExpr": "datum.value == 'HD' ? 'PBMC-HD' : datum.value == 'BC' ? 'PBMC-BC' : datum.value == 'Tonsil' ? 'Tonsil' : indexof(datum.value, 'neg') > 0 ? 'TIL ⁿᵉᵍ' : indexof(datum.value, 'int') > 0 ? 'TIL ⁱⁿᵗ' : 'TIL ʰⁱ'"}},
       "xOffset": {"field": "k", "type": "ordinal", "scale": {"domain": [7,5,3,1,2,4,6]}},
       "y": {"field": "v", "type": "quantitative", "scale": {"domain": [0, 8], "nice": false}, "axis": {"values": [0,2,4,6,8], "title": ["ASC (CD38ʰⁱCD27ʰⁱ)", "in B cells (%)"], "titlePadding": 2}},
       "color": {"field": "c", "type": "nominal", "scale": {"domain": ["HD","BC","IDCneg","IDCint","IDChi","ILCneg","ILCint","ILChi"], "range": ["#000000","#E5197F","#1FB04A","#F7931E","#F0566A","#1FB04A","#F7931E","#E41E26"]}, "legend": null},
       "shape": {"field": "c", "type": "nominal", "scale": {"domain": ["HD","BC","IDCneg","IDCint","IDChi","ILCneg","ILCint","ILChi"], "range": ["circle","square","triangle-up","triangle-up","triangle-up","circle","circle","circle"]}, "legend": null}
      }},
     {"data": {"name": "asc_s"}, "mark": {"type": "rule", "strokeWidth": 2, "color": "black"}, "encoding": {"x": {"field": "c", "type": "nominal", "title": null}, "y": {"field": "lo", "type": "quantitative"}, "y2": {"field": "hi"}}},
     {"data": {"name": "asc_s"}, "mark": {"type": "tick", "size": 23, "thickness": 2, "color": "black"}, "encoding": {"x": {"field": "c", "type": "nominal", "title": null}, "y": {"field": "m", "type": "quantitative"}}},
     {"data": {"name": "asc_s"}, "mark": {"type": "tick", "size": 11, "thickness": 2, "color": "black"}, "encoding": {"x": {"field": "c", "type": "nominal", "title": null}, "y": {"field": "lo", "type": "quantitative"}}},
     {"data": {"name": "asc_s"}, "mark": {"type": "tick", "size": 11, "thickness": 2, "color": "black"}, "encoding": {"x": {"field": "c", "type": "nominal", "title": null}, "y": {"field": "hi", "type": "quantitative"}}},
     {"data": {"name": "brk8"}, "transform": [{"filter": "datum.g == 'IDC'"}], "mark": {"type": "rule", "strokeWidth": 1.8, "color": "black", "yOffset": 53, "xOffset": -10, "x2Offset": 2}, "encoding": {"x": {"field": "from", "type": "nominal", "title": null}, "x2": {"field": "to"}, "y": {"datum": 0}}},
     {"data": {"name": "brk8"}, "transform": [{"filter": "datum.g == 'ILC'"}], "mark": {"type": "rule", "strokeWidth": 1.8, "color": "black", "yOffset": 53, "xOffset": 11, "x2Offset": 18}, "encoding": {"x": {"field": "from", "type": "nominal", "title": null}, "x2": {"field": "to"}, "y": {"datum": 0}}},
     {"data": {"name": "brk8"}, "transform": [{"filter": "datum.g == 'IDC'"}], "mark": {"type": "text", "fontSize": 17, "color": "black", "yOffset": 72}, "encoding": {"x": {"field": "mid", "type": "nominal", "title": null}, "y": {"datum": 0}, "text": {"field": "g"}}},
     {"data": {"name": "brk8"}, "transform": [{"filter": "datum.g == 'ILC'"}], "mark": {"type": "text", "fontSize": 17, "color": "black", "yOffset": 72, "dx": 19}, "encoding": {"x": {"field": "mid", "type": "nominal", "title": null}, "y": {"datum": 0}, "text": {"field": "g"}}}
    ]
   },
   {
    "width": 289, "height": 190,
    "title": {"text": "PC", "offset": 2},
    "layer": [
     {"data": {"name": "pc"},
      "transform": [{"bin": {"step": 1}, "field": "v", "as": "vb"}, {"window": [{"op": "row_number", "as": "k"}], "groupby": ["c", "vb"]}],
      "mark": {"type": "point", "filled": true, "size": 45, "opacity": 1},
      "encoding": {
       "x": {"field": "c", "type": "nominal", "scale": {"domain": ["HD","BC","IDCneg","IDCint","IDChi","ILCneg","ILCint","ILChi"], "paddingInner": 0, "paddingOuter": 0}, "axis": {"title": null, "labelExpr": "datum.value == 'HD' ? 'PBMC-HD' : datum.value == 'BC' ? 'PBMC-BC' : datum.value == 'Tonsil' ? 'Tonsil' : indexof(datum.value, 'neg') > 0 ? 'TIL ⁿᵉᵍ' : indexof(datum.value, 'int') > 0 ? 'TIL ⁱⁿᵗ' : 'TIL ʰⁱ'"}},
       "xOffset": {"field": "k", "type": "ordinal", "scale": {"domain": [7,5,3,1,2,4,6]}},
       "y": {"field": "v", "type": "quantitative", "scale": {"domain": [0, 50], "nice": false}, "axis": {"values": [0,10,20,30,40,50], "title": ["PC (CD38ʰⁱCD138⁺)", "in B cells (%)"], "titlePadding": 2}},
       "color": {"field": "c", "type": "nominal", "scale": {"domain": ["HD","BC","IDCneg","IDCint","IDChi","ILCneg","ILCint","ILChi"], "range": ["#000000","#E5197F","#1FB04A","#F7931E","#F0566A","#1FB04A","#F7931E","#E41E26"]}, "legend": null},
       "shape": {"field": "c", "type": "nominal", "scale": {"domain": ["HD","BC","IDCneg","IDCint","IDChi","ILCneg","ILCint","ILChi"], "range": ["circle","square","triangle-up","triangle-up","triangle-up","circle","circle","circle"]}, "legend": null}
      }},
     {"data": {"name": "pc_s"}, "mark": {"type": "rule", "strokeWidth": 2, "color": "black"}, "encoding": {"x": {"field": "c", "type": "nominal", "title": null}, "y": {"field": "lo", "type": "quantitative"}, "y2": {"field": "hi"}}},
     {"data": {"name": "pc_s"}, "mark": {"type": "tick", "size": 23, "thickness": 2, "color": "black"}, "encoding": {"x": {"field": "c", "type": "nominal", "title": null}, "y": {"field": "m", "type": "quantitative"}}},
     {"data": {"name": "pc_s"}, "mark": {"type": "tick", "size": 11, "thickness": 2, "color": "black"}, "encoding": {"x": {"field": "c", "type": "nominal", "title": null}, "y": {"field": "lo", "type": "quantitative"}}},
     {"data": {"name": "pc_s"}, "mark": {"type": "tick", "size": 11, "thickness": 2, "color": "black"}, "encoding": {"x": {"field": "c", "type": "nominal", "title": null}, "y": {"field": "hi", "type": "quantitative"}}},
     {"data": {"name": "pc_sig"}, "mark": {"type": "text", "fontSize": 19, "fontWeight": "bold", "color": "black", "dy": 0}, "encoding": {"x": {"field": "c", "type": "nominal", "title": null}, "y": {"datum": 50}, "text": {"field": "t"}}},
     {"data": {"name": "brk8"}, "transform": [{"filter": "datum.g == 'IDC'"}], "mark": {"type": "rule", "strokeWidth": 1.8, "color": "black", "yOffset": 62, "xOffset": -10, "x2Offset": 1}, "encoding": {"x": {"field": "from", "type": "nominal", "title": null}, "x2": {"field": "to"}, "y": {"datum": 0}}},
     {"data": {"name": "brk8"}, "transform": [{"filter": "datum.g == 'ILC'"}], "mark": {"type": "rule", "strokeWidth": 1.8, "color": "black", "yOffset": 62, "xOffset": 9, "x2Offset": 16}, "encoding": {"x": {"field": "from", "type": "nominal", "title": null}, "x2": {"field": "to"}, "y": {"datum": 0}}},
     {"data": {"name": "brk8"}, "transform": [{"filter": "datum.g == 'IDC'"}], "mark": {"type": "text", "fontSize": 17, "color": "black", "yOffset": 80}, "encoding": {"x": {"field": "mid", "type": "nominal", "title": null}, "y": {"datum": 0}, "text": {"field": "g"}}},
     {"data": {"name": "brk8"}, "transform": [{"filter": "datum.g == 'ILC'"}], "mark": {"type": "text", "fontSize": 17, "color": "black", "yOffset": 80, "dx": 20}, "encoding": {"x": {"field": "mid", "type": "nominal", "title": null}, "y": {"datum": 0}, "text": {"field": "g"}}}
    ]
   }
  ]
 }
 ]},
 {"spacing": 0, "hconcat": [
 {"width": 1, "height": 1, "data": {"name": "blank"}, "mark": {"type": "point", "opacity": 0}, "encoding": {}},
 {
  "title": {"text": "C", "anchor": "start", "fontSize": 20, "fontWeight": "bold", "offset": -19, "dx": -6},
  "hconcat": [
   {
    "width": 287, "height": 191,
    "title": {"text": "TLM", "offset": -9},
    "layer": [
     {"data": {"name": "tlm"},
      "transform": [{"bin": {"step": 1}, "field": "v", "as": "vb"}, {"window": [{"op": "row_number", "as": "k"}], "groupby": ["c", "vb"]}],
      "mark": {"type": "point", "filled": true, "size": 45, "opacity": 1},
      "encoding": {
       "x": {"field": "c", "type": "nominal", "scale": {"domain": ["HD","BC","IDCneg","IDCint","IDChi","ILCneg","ILCint","ILChi","Tonsil"], "paddingInner": 0, "paddingOuter": 0}, "axis": {"title": null, "labelExpr": "datum.value == 'HD' ? 'PBMC-HD' : datum.value == 'BC' ? 'PBMC-BC' : datum.value == 'Tonsil' ? 'Tonsil' : indexof(datum.value, 'neg') > 0 ? 'TIL ⁿᵉᵍ' : indexof(datum.value, 'int') > 0 ? 'TIL ⁱⁿᵗ' : 'TIL ʰⁱ'"}},
       "xOffset": {"field": "k", "type": "ordinal", "scale": {"domain": [7,5,3,1,2,4,6]}},
       "y": {"field": "v", "type": "quantitative", "scale": {"domain": [0, 30], "nice": false}, "axis": {"values": [0,10,20,30], "title": ["TLM (CD21⁻CD27⁻)", "in B cells (%)"], "titlePadding": 2}},
       "color": {"field": "c", "type": "nominal", "scale": {"domain": ["HD","BC","IDCneg","IDCint","IDChi","ILCneg","ILCint","ILChi","Tonsil"], "range": ["#000000","#E5197F","#1FB04A","#F7931E","#E8202A","#1FB04A","#F7931E","#E41E26","#6A2C91"]}, "legend": null},
       "shape": {"field": "c", "type": "nominal", "scale": {"domain": ["HD","BC","IDCneg","IDCint","IDChi","ILCneg","ILCint","ILChi","Tonsil"], "range": ["circle","square","triangle-up","triangle-up","triangle-up","circle","circle","circle","diamond"]}, "legend": null}
      }},
     {"data": {"name": "tlm_s"}, "mark": {"type": "rule", "strokeWidth": 2, "color": "black"}, "encoding": {"x": {"field": "c", "type": "nominal", "title": null}, "y": {"field": "lo", "type": "quantitative"}, "y2": {"field": "hi"}}},
     {"data": {"name": "tlm_s"}, "mark": {"type": "tick", "size": 23, "thickness": 2, "color": "black"}, "encoding": {"x": {"field": "c", "type": "nominal", "title": null}, "y": {"field": "m", "type": "quantitative"}}},
     {"data": {"name": "tlm_s"}, "mark": {"type": "tick", "size": 11, "thickness": 2, "color": "black"}, "encoding": {"x": {"field": "c", "type": "nominal", "title": null}, "y": {"field": "lo", "type": "quantitative"}}},
     {"data": {"name": "tlm_s"}, "mark": {"type": "tick", "size": 11, "thickness": 2, "color": "black"}, "encoding": {"x": {"field": "c", "type": "nominal", "title": null}, "y": {"field": "hi", "type": "quantitative"}}},
     {"data": {"name": "brk"}, "mark": {"type": "rule", "strokeWidth": 1.8, "color": "black", "yOffset": 56, "xOffset": -3, "x2Offset": -7}, "encoding": {"x": {"field": "from", "type": "nominal", "title": null}, "x2": {"field": "to"}, "y": {"datum": 0}}},
     {"data": {"name": "brk"}, "mark": {"type": "text", "fontSize": 17, "color": "black", "yOffset": 69, "dx": -22}, "encoding": {"x": {"field": "mid", "type": "nominal", "title": null}, "y": {"datum": 0}, "text": {"field": "g"}}}
    ]
   }
  ]
 }
 ]}
 ]
 }
]
}
